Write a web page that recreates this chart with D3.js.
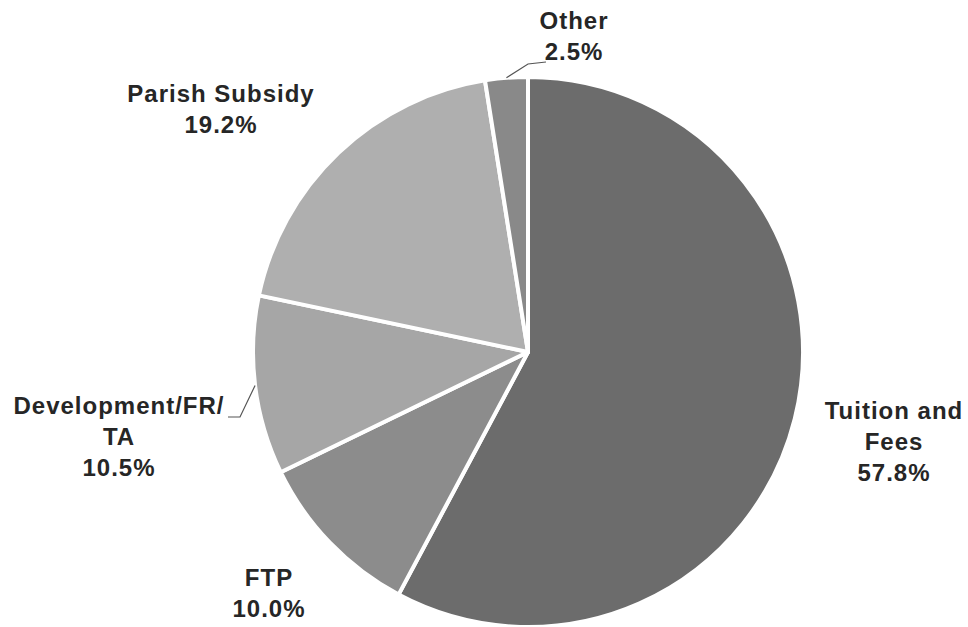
<!DOCTYPE html>
<html>
<head>
<meta charset="utf-8">
<script src="https://cdn.jsdelivr.net/npm/d3@7.9.0/dist/d3.min.js"></script>
<style>
  body { margin: 0; background: #fff; }
  svg text { font-family: "Liberation Sans", Arial, sans-serif; font-weight: bold; font-size: 24px; letter-spacing: 1px; fill: #262626; }
</style>
</head>
<body>
<svg id="chart" width="968" height="627"></svg>
<script>
// Data
const categories = ['Tuition and Fees', 'FTP', 'Development/FR/TA', 'Parish Subsidy', 'Other'];
const values = [57.8, 10.0, 10.5, 19.2, 2.5];
const labelLines = [['Tuition and', 'Fees'], ['FTP'], ['Development/FR/', 'TA'], ['Parish Subsidy'], ['Other']];
const fills = ['#6c6c6c', '#8c8c8c', '#a6a6a6', '#afafaf', '#898989'];

const data = categories.map((c, i) => ({ label: c, value: values[i], lines: labelLines[i] }));

// Layout
const width = 968, height = 627;
const cx = 528, cy = 352, radius = 275;
// label centres (x, baseline of first line) and optional leader lines, keyed by category
const labelLayout = {
  'Tuition and Fees': { x: 894, y: 419 },
  'FTP': { x: 269, y: 586 },
  'Development/FR/TA': { x: 119, y: 414, leader: [[240, 417], [228, 417]] },
  'Parish Subsidy': { x: 221, y: 102 },
  'Other': { x: 574, y: 29, leader: [[528, 64], [546, 62]] }
};
const lineHeight = 31;

const svg = d3.select('#chart');
const g = svg.append('g').attr('transform', `translate(${cx},${cy})`);

const pie = d3.pie().sort(null).value(d => d.value);
const arcData = pie(data);
const arc = d3.arc().innerRadius(0).outerRadius(radius);

g.selectAll('path.slice')
  .data(arcData)
  .enter()
  .append('path')
  .attr('class', 'slice')
  .attr('d', arc)
  .attr('fill', (d, i) => fills[i])
  .attr('stroke', '#fff')
  .attr('stroke-width', 4)
  .attr('stroke-linejoin', 'round');

// leader lines start on the pie edge at the slice middle
const edgeArc = d3.arc().innerRadius(radius).outerRadius(radius);
arcData.forEach(d => {
  const lay = labelLayout[d.data.label];
  if (!lay.leader) return;
  const [ex, ey] = edgeArc.centroid(d);
  const pts = [[ex + cx, ey + cy], ...lay.leader];
  svg.append('path')
    .attr('d', d3.line()(pts))
    .attr('fill', 'none')
    .attr('stroke', '#555')
    .attr('stroke-width', 1.2);
});

// labels
arcData.forEach(d => {
  const lay = labelLayout[d.data.label];
  const lines = [...d.data.lines, d3.format('.1f')(d.data.value) + '%'];
  const t = svg.append('text')
    .attr('text-anchor', 'middle')
    .attr('x', lay.x)
    .attr('y', lay.y);
  lines.forEach((ln, j) => {
    t.append('tspan')
      .attr('x', lay.x)
      .attr('dy', j === 0 ? 0 : lineHeight)
      .text(ln);
  });
});
</script>
</body>
</html>
